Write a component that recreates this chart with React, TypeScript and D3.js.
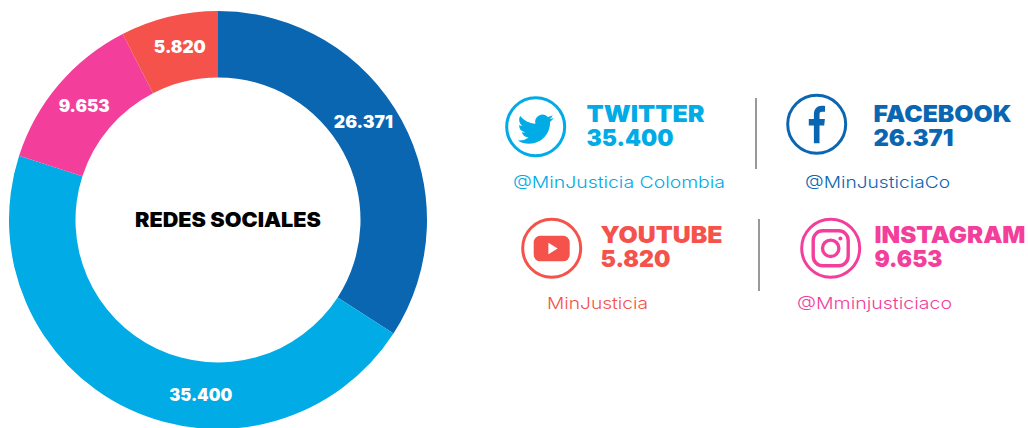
import React from "react";
import * as d3 from "d3";

const names = ["Facebook", "Twitter", "Instagram", "YouTube"];
const followers = [26371, 35400, 9653, 5820];
const valueLabels = ["26.371", "35.400", "9.653", "5.820"];
const titles = ["FACEBOOK", "TWITTER", "INSTAGRAM", "YOUTUBE"];
const handles = ["@MinJusticiaCo", "@MinJusticia Colombia", "@Mminjusticiaco", "MinJusticia"];
const colors = ["#0B66B2", "#00ABE6", "#F33E9B", "#F4524A"];

const FONT = "Inter, 'Open Sans', sans-serif";
const cx = 218, cy = 220, R = 209, r0 = 142.5;
const labelNudge = [[-9, -14], [58, 16], [0, 0], [3, -2]];
const labelWidths = [59, 63, 51, 52];
const cards = [
  { ic: [816.7, 124.3], tx: 873.5, ty: [121.7, 146], tw: [138, 80], hx: 805, hw: 145, hy: 188 },
  { ic: [535.7, 126.7], tx: 586.5, ty: [121.7, 146], tw: [118, 87], hx: 513, hw: 212, hy: 188 },
  { ic: [830.7, 248.3], tx: 874.5, ty: [242.8, 267], tw: [151, 68], hx: 797, hw: 155, hy: 309 },
  { ic: [551.7, 248.3], tx: 600.5, ty: [242.8, 267], tw: [122, 70], hx: 547, hw: 101, hy: 309 },
];

const TW = "M23.953 4.57a10 10 0 01-2.825.775 4.958 4.958 0 002.163-2.723c-.951.555-2.005.959-3.127 1.184a4.92 4.92 0 00-8.384 4.482C7.69 8.095 4.067 6.13 1.64 3.162a4.822 4.822 0 00-.666 2.475c0 1.71.87 3.213 2.188 4.096a4.904 4.904 0 01-2.228-.616v.06a4.923 4.923 0 003.946 4.827 4.996 4.996 0 01-2.212.085 4.936 4.936 0 004.604 3.417 9.867 9.867 0 01-6.102 2.105c-.39 0-.779-.023-1.17-.067a13.995 13.995 0 007.557 2.209c9.053 0 13.998-7.496 13.998-13.985 0-.21 0-.42-.015-.63A9.935 9.935 0 0024 4.59z";

function Glyph({ i, color }: { i: number; color: string }) {
  if (i === 0)
    return <path fill={color} d="M-3.2 21.5V1.5H-9V-6H-3.2V-11C-3.2 -17.5 0.5 -21 6 -21C7.6 -21 8.8 -20.9 9.5 -20.8V-14.2H6.2C3.6 -14.2 3.2 -13 3.2 -11.2V-6H9.3L8.5 1.5H3.2V21.5Z" transform="scale(0.88)" />;
  if (i === 1)
    return <path fill={color} d={TW} transform="translate(-18,-15.5) scale(1.5)" />;
  if (i === 2)
    return (
      <g fill="none" stroke={color} strokeWidth={3.4}>
        <rect x={-17.5} y={-17.5} width={35} height={35} rx={9.5} />
        <circle r={8.2} />
        <circle cx={9.7} cy={-9.7} r={2} fill={color} stroke="none" />
      </g>
    );
  return (
    <g>
      <rect x={-18} y={-12.5} width={36} height={25.5} rx={6.5} fill={color} />
      <path d="M-3.3 -5.5L6 0.3L-3.3 6Z" fill="#fff" />
    </g>
  );
}

export default function App() {
  const pie = d3.pie<number>().sort(null).value((d) => d);
  const arc = d3.arc<d3.PieArcDatum<number>>().innerRadius(r0).outerRadius(R);
  const arcs = pie(followers);
  return (
    <svg width={1028} height={428} style={{ position: "absolute", left: 0, top: 0, background: "#fff" }} fontFamily={FONT}>
      <g transform={`translate(${cx},${cy})`}>
        {arcs.map((a, i) => (
          <path key={names[i]} d={arc(a) ?? ""} fill={colors[i]} />
        ))}
        {arcs.map((a, i) => {
          const [x, y] = arc.centroid(a);
          return (
            <text key={names[i]} x={x + labelNudge[i][0] - labelWidths[i] / 2} y={y + labelNudge[i][1] + 6} fill="#fff" fontSize={17} fontWeight={900} textLength={labelWidths[i]} lengthAdjust="spacingAndGlyphs">
              {valueLabels[i]}
            </text>
          );
        })}
      </g>
      <text x={135} y={227} fontSize={20} fontWeight={900} fill="#000" textLength={186} lengthAdjust="spacingAndGlyphs">
        REDES SOCIALES
      </text>
      <line x1={756} x2={756} y1={98} y2={169} stroke="#999" strokeWidth={2} />
      <line x1={759} x2={759} y1={219} y2={291} stroke="#999" strokeWidth={2} />
      {cards.map((c, i) => (
        <g key={names[i]}>
          <g transform={`translate(${c.ic[0]},${c.ic[1]})`}>
            <circle r={29} fill="none" stroke={colors[i]} strokeWidth={3} />
            <Glyph i={i} color={colors[i]} />
          </g>
          <text x={c.tx} y={c.ty[0]} fontSize={23} fontWeight={900} fill={colors[i]} textLength={c.tw[0]} lengthAdjust="spacingAndGlyphs">
            {titles[i]}
          </text>
          <text x={c.tx} y={c.ty[1]} fontSize={23} fontWeight={900} fill={colors[i]} textLength={c.tw[1]} lengthAdjust="spacingAndGlyphs">
            {valueLabels[i]}
          </text>
          <text x={c.hx} y={c.hy} fontSize={16.5} fontWeight={300} fill={colors[i]} textLength={c.hw} lengthAdjust="spacingAndGlyphs">
            {handles[i]}
          </text>
        </g>
      ))}
    </svg>
  );
}
